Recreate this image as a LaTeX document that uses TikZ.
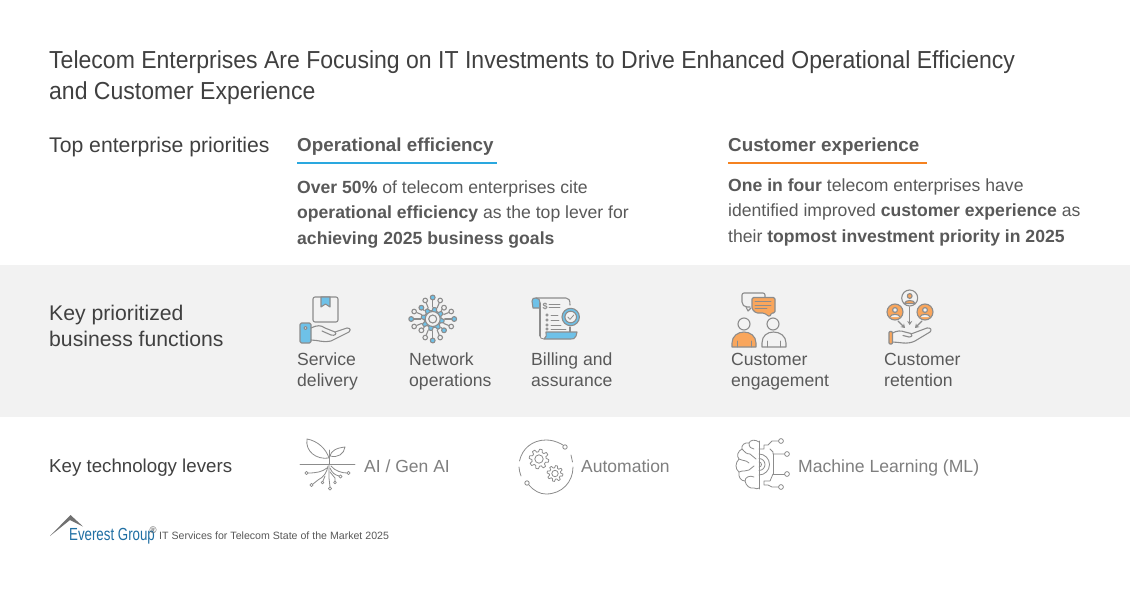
\documentclass[tikz,border=0pt]{standalone}
\usepackage{fontspec}
\setmainfont{Liberation Sans}
\usetikzlibrary{arrows.meta}
\definecolor{bandgray}{HTML}{F2F2F2}
\definecolor{titlegray}{HTML}{404040}
\definecolor{bodygray}{HTML}{595959}
\definecolor{levergray}{HTML}{7F7F7F}
\definecolor{icongray}{HTML}{8C8C8C}
\definecolor{iconblue}{HTML}{6EC1E8}
\definecolor{iconorange}{HTML}{F9A65C}
\definecolor{ruleblue}{HTML}{2AA8DF}
\definecolor{ruleorange}{HTML}{F58220}
\definecolor{logoblue}{HTML}{1F6FA3}
\newcommand{\fsz}[2]{\fontsize{#1}{#2}\selectfont}
\newcommand{\gearpath}[6]{% cx cy r a teeth inner
  \draw[#6] plot[samples=97,domain=0:360,smooth cycle] ({#1+(#3+#4*max(-1,min(1,3*sin(#5*\x)))) *cos(\x)},{#2+(#3+#4*max(-1,min(1,3*sin(#5*\x))))*sin(\x)});}
\tikzset{
  txt/.style={inner sep=0pt,anchor=base west,align=left},
  titletext/.style={txt,text=titlegray,font=\fsz{24.6}{31},xscale=.936,transform shape},
  rowlabel/.style={txt,text=titlegray,font=\fsz{21.2}{26}},
  headtext/.style={txt,text=bodygray,font=\fsz{18.8}{24}\bfseries},
  bodytext/.style={txt,text=bodygray,font=\fsz{17.6}{25.5}},
  functext/.style={txt,text=bodygray,font=\fsz{17.6}{21.5}},
  levertext/.style={txt,text=levergray,font=\fsz{17.5}{22}},
  ic/.style={draw=icongray,line width=1.1pt,line cap=round,line join=round},
  icb/.style={ic,fill=iconblue},
  ico/.style={ic,fill=iconorange},
  thin ic/.style={draw=icongray,line width=.8pt,line cap=round,line join=round},
}
\begin{document}
\begin{tikzpicture}[x=1pt,y=-1pt]
\useasboundingbox (0,0) rectangle (1130,591);
\fill[white] (0,0) rectangle (1130,591);
\fill[bandgray] (0,265) rectangle (1130,417);

\node[titletext] (title) at (49,100) {Telecom Enterprises Are Focusing on IT Investments to Drive Enhanced Operational Efficiency\\and Customer Experience};
\node[rowlabel] (rowa) at (49,153) {Top enterprise priorities};
\node[rowlabel] (rowb) at (49,346) {Key prioritized\\business functions};
\node[txt,text=titlegray,font=\fsz{18.7}{24}] (rowc) at (49,472) {Key technology levers};

\node[headtext] (heada) at (297,152) {Operational efficiency};
\coordinate (ra1) at (297,163); \coordinate (ra2) at (497,163);
\draw[ruleblue,line width=2pt] (ra1) -- (ra2);
\node[headtext] (headb) at (728,152) {Customer experience};
\coordinate (rb1) at (728,163); \coordinate (rb2) at (927,163);
\draw[ruleorange,line width=2pt] (rb1) -- (rb2);

\node[bodytext] (bodya) at (297,244) {\textbf{Over 50\%} of telecom enterprises cite\\\textbf{operational efficiency} as the top lever for\\\textbf{achieving 2025 business goals}};
\node[bodytext] (bodyb) at (728,242) {\textbf{One in four} telecom enterprises have\\identified improved \textbf{customer experience} as\\their \textbf{topmost investment priority in 2025}};

\node[functext] (f1) at (297,386.5) {Service\\delivery};
\node[functext] (f2) at (409,386.5) {Network\\operations};
\node[functext] (f3) at (531,386.5) {Billing and\\assurance};
\node[functext] (f4) at (731,386.5) {Customer\\engagement};
\node[functext] (f5) at (884,386.5) {Customer\\retention};

\node[levertext] (l1) at (364,472) {AI / Gen AI};
\node[levertext] (l2) at (581,472) {Automation};
\node[levertext,font=\fsz{17.6}{22}] (l3) at (798,472) {Machine Learning (ML)};

% --- service delivery icon
\draw[ic,rounded corners=2pt] (313,297) rectangle (338,322);
\draw[icb] (321,297) -- (330,297) -- (330,307) -- (325.5,304) -- (321,307) -- cycle;
\draw[icb,rounded corners=1.5pt] (300,323) rectangle (311,343);
\draw[ic,fill=white] (305.5,328) circle (1.6);
\draw[ic] (311,328) .. controls (317,325) and (321,325) .. (325,328) -- (335,332)
  .. controls (337,334) and (335,336) .. (331,335) -- (322,331);
\draw[ic] (335,332) -- (347,328) .. controls (351,328) and (351,331) .. (349,332)
  -- (331,341) .. controls (324,343) and (318,340) .. (311,340);

% --- network operations icon
\begin{scope}[shift={(432.7,319)}]
  \gearpath{0}{0}{10}{1.5}{8}{ic,fill=iconblue}
  \draw[ic,fill=bandgray] (0,0) circle (7.5);
  \draw[ic,fill=bandgray] (0,0) circle (4);
  \foreach \a in {0,90,180,270} {
    \draw[ic] (\a:12) -- (\a:19);
    \draw[icb] (\a:21.5) circle (2.4);
  }
  \foreach \a in {45,225} {
    \draw[ic] (\a:12) -- (\a:14);
    \draw[icb] (\a:16) circle (2.4);
  }
  \foreach \a in {135,315} {
    \draw[ic] (\a:12) -- (\a:14);
    \draw[ic] (\a:16) circle (2.4);
  }
  \foreach \a in {22,68,112,158,202,248,292,338} {
    \draw[ic] (\a:12) -- (\a:17);
    \draw[ic] (\a:20) circle (2.3);
  }
\end{scope}

% --- billing icon
\draw[icb] (540,308) -- (533,308) -- (532,301) .. controls (532,298) and (534,298) .. (536,298)
  .. controls (539,298) and (540,300) .. (540,303) -- cycle;
\draw[ic] (536,298) -- (566,298) .. controls (569,298) and (570,300) .. (570,305);
\draw[ic] (540,303) -- (540,336);
\draw[ic] (570,327) -- (570,332);
\draw[icb] (546,332) -- (577,332) -- (576,336) .. controls (575,339) and (573,339) .. (571,339) -- (544,339)
  .. controls (547,338) and (546,335) .. (546,332) -- cycle;
\draw[ic,line width=.8pt] (544,339) .. controls (541,339) and (540,338) .. (540,335);
\node[text=icongray,font=\fsz{9}{9}\bfseries,inner sep=0pt] (dollar) at (545,306) {\$};
\foreach \y in {304,307} \draw[ic,line width=.8pt] (549,\y) -- (560,\y);
\foreach \y/\e in {315/558,320/559,325/561,329/566} {
  \draw[ic,line width=.8pt] (547,\y) circle (1.2);
  \draw[ic,line width=.8pt] (551,\y) -- (\e,\y);
}
\draw[icb] (570.7,317) circle (8.7);
\draw[ic,fill=bandgray] (570.7,317) circle (5.8);
\draw[ic,line width=.8pt] (567.8,317) -- (570,319.4) -- (573.8,315);

% --- customer engagement icon
\draw[ic,rounded corners=2pt] (750,307) -- (745,307) -- (742,304) -- (742,293) -- (765,293) -- (765,297);
\draw[ic] (746,307) -- (748,311) -- (751,308);
\draw[ico,rounded corners=1.5pt] (752,297.5) -- (775,297.5) -- (775,313) -- (771,313) -- (770,317) -- (764,313) -- (756,313) -- (752,309) -- cycle;
\foreach \y/\e in {301.5/771,305/771,308.5/767} \draw[ic,line width=.8pt] (755,\y) -- (\e,\y);
\draw[ic,fill=bandgray] (744,324) circle (6);
\draw[ic,fill=bandgray] (773,324) circle (6);
\draw[ico] (732,347) -- (732,343) .. controls (732,336) and (738,332) .. (744,332) .. controls (750,332) and (756,336) .. (756,343) -- (756,347) -- cycle;
\draw[ic,fill=bandgray] (762,347) -- (762,343) .. controls (762,336) and (767,332) .. (773.5,332) .. controls (780,332) and (786,336) .. (786,343) -- (786,347) -- cycle;
\foreach \x in {737,751,767,780} \draw[ic,line width=.8pt] (\x,341) -- (\x,347);

% --- customer retention icon
\draw[ic,fill=bandgray] (909.7,298) circle (8);
\draw[ico] (909.7,296) circle (2.4);
\draw[ico] (904.5,303.5) .. controls (905,299.5) and (914.5,299.5) .. (915,303.5) -- cycle;
\foreach \cx in {895,925} {
  \draw[ico] (\cx,312) circle (8);
  \draw[ic,fill=bandgray] (\cx,310) circle (2.4);
  \draw[ic,fill=bandgray] (\cx-5,317) .. controls (\cx-4,313.5) and (\cx+4,313.5) .. (\cx+5,317);
}
\draw[ic,-{Stealth[length=4pt,width=5pt]}] (909.7,307) -- (909.7,325);
\draw[ic,-{Stealth[length=4pt,width=5pt]}] (898,321) -- (905,328);
\draw[ic,-{Stealth[length=4pt,width=5pt]}] (922,321) -- (915,328);
\draw[ico,rounded corners=1pt] (889,331.5) rectangle (892.5,344);
\draw[ic] (892.5,333) .. controls (897,330.5) and (901,330.5) .. (905,332) -- (911,333.5)
  .. controls (913,335) and (912,337) .. (909,337) -- (903,335.5);
\draw[ic] (911,334) -- (927,328) .. controls (931,327.5) and (932,330) .. (930,332)
  -- (915,341) .. controls (907,345) and (899,342) .. (892.5,342);

% --- AI plant icon
\begin{scope}[thin ic]
  \draw[draw=icongray] (300,464) -- (355,464);
  \draw[draw=icongray] (329,464) -- (329,450);
  \draw[draw=icongray] (329,458) .. controls (326,449) and (318,441) .. (307,439)
     .. controls (305,451) and (316,460) .. (329,458);
  \draw[draw=icongray] (330,456) .. controls (331,451) and (336,448) .. (345,447)
     .. controls (344,454) and (338,458) .. (330,456);
  \draw[draw=icongray] (329,464) -- (329,478) -- (330,487);
  \draw[draw=icongray] (330,488.5) circle (1.6);
  \draw[draw=icongray] (328,466) .. controls (327,472) and (324,477) .. (318,480) -- (313,484);
  \draw[draw=icongray] (311.5,485) circle (1.6);
  \draw[draw=icongray] (327,468) .. controls (322,472) and (316,473) .. (308,473);
  \draw[draw=icongray] (306.5,473) circle (1.6);
  \draw[draw=icongray] (330,468) .. controls (332,473) and (335,475) .. (339,476);
  \draw[draw=icongray] (340.5,476.5) circle (1.6);
  \draw[draw=icongray] (331,466) .. controls (335,471) and (342,473) .. (347,473);
  \draw[draw=icongray] (348.5,473) circle (1.6);
  \draw[draw=icongray] (330,472) -- (335,478) -- (335,481);
  \draw[draw=icongray] (335,482.5) circle (1.4);
  \draw[draw=icongray] (325,476) -- (323,481);
  \draw[draw=icongray] (322.5,482.5) circle (1.4);
\end{scope}

% --- automation icon
\begin{scope}[thin ic]
  \draw[draw=icongray] (565,447) circle (2.2);
  \draw[draw=icongray] (527,483) circle (2.2);
  \draw[draw=icongray] (563,445) .. controls (556,441) and (551,440) .. (546,440)
     .. controls (532,440) and (522,449) .. (519.5,461);
  \draw[draw=icongray] (519,467) .. controls (519,470) and (520,473) .. (521,476);
  \draw[draw=icongray] (529,485) .. controls (534,491) and (540,494) .. (546,494)
     .. controls (562,494) and (573,482) .. (573,467);
  \draw[draw=icongray] (572.5,462) -- (571,455);
  \gearpath{539}{459}{8.5}{1.3}{8}{draw=icongray,fill=white,line width=.8pt}
  \draw[draw=icongray] (539,459) circle (4.2);
  \gearpath{555}{473.5}{6.8}{1.1}{8}{draw=icongray,fill=white,line width=.8pt}
  \draw[draw=icongray] (555,473.5) circle (3.2);
\end{scope}

% --- machine learning icon
\begin{scope}[thin ic]
  \draw[draw=icongray] (759,441) -- (759,489);
  \draw[draw=icongray] (759,442) .. controls (755,439) and (750,440) .. (749,443)
    .. controls (745,442) and (741,445) .. (742,449)
    .. controls (738,451) and (736,456) .. (739,459)
    .. controls (735,463) and (735,469) .. (739,472)
    .. controls (738,477) and (741,481) .. (745,481)
    .. controls (746,486) and (750,489) .. (754,488)
    .. controls (756,489) and (758,489) .. (759,488);
  \draw[draw=icongray] (749,443) .. controls (749,447) and (751,449) .. (754,449);
  \draw[draw=icongray] (742,449) .. controls (745,452) and (746,454) .. (750,454) -- (756,459);
  \draw[draw=icongray] (739,459) .. controls (743,461) and (746,460) .. (749,463);
  \draw[draw=icongray] (739,472) .. controls (743,470) and (746,472) .. (749,470) -- (754,466);
  \draw[draw=icongray] (745,481) .. controls (745,477) and (750,475) .. (754,477);
  \draw[draw=icongray] (759,454) arc (-90:90:10.5);
  \draw[draw=icongray] (759,458.5) arc (-90:90:6);
  \draw[draw=icongray] (759,462) arc (-90:90:2.5);
  \draw[draw=icongray] (759,449) -- (764,449) -- (764,445) -- (768,445) -- (772,441) -- (778.5,441);
  \draw[draw=icongray] (781,441) circle (2.4);
  \draw[draw=icongray] (770,449) -- (773,452) -- (773,454) -- (784.5,454);
  \draw[draw=icongray] (787,454) circle (2.4);
  \draw[draw=icongray] (773,454) -- (773,474) ;
  \draw[draw=icongray] (773,474) -- (784.5,474);
  \draw[draw=icongray] (787,474) circle (2.4);
  \draw[draw=icongray] (773,474) -- (770,481) -- (764,481) -- (764,485) -- (768,485) -- (772,487) -- (778.5,487);
  \draw[draw=icongray] (781,487) circle (2.4);
\end{scope}

% --- logo
\fill[icongray!80!black] (50,536) -- (70.5,515) -- (83,526.5) -- (70,520) -- cycle;
\node[txt,text=logoblue,font=\fsz{17.5}{18},xscale=.76,transform shape] (logo) at (69,540) {Everest Group};
\node[txt,text=bodygray,font=\fsz{9.5}{9}] (reg) at (149.5,533) {®};
\node[txt,text=bodygray,font=\fsz{10.6}{12}] (src) at (159,539) {IT Services for Telecom State of the Market 2025};
\end{tikzpicture}
\end{document}
